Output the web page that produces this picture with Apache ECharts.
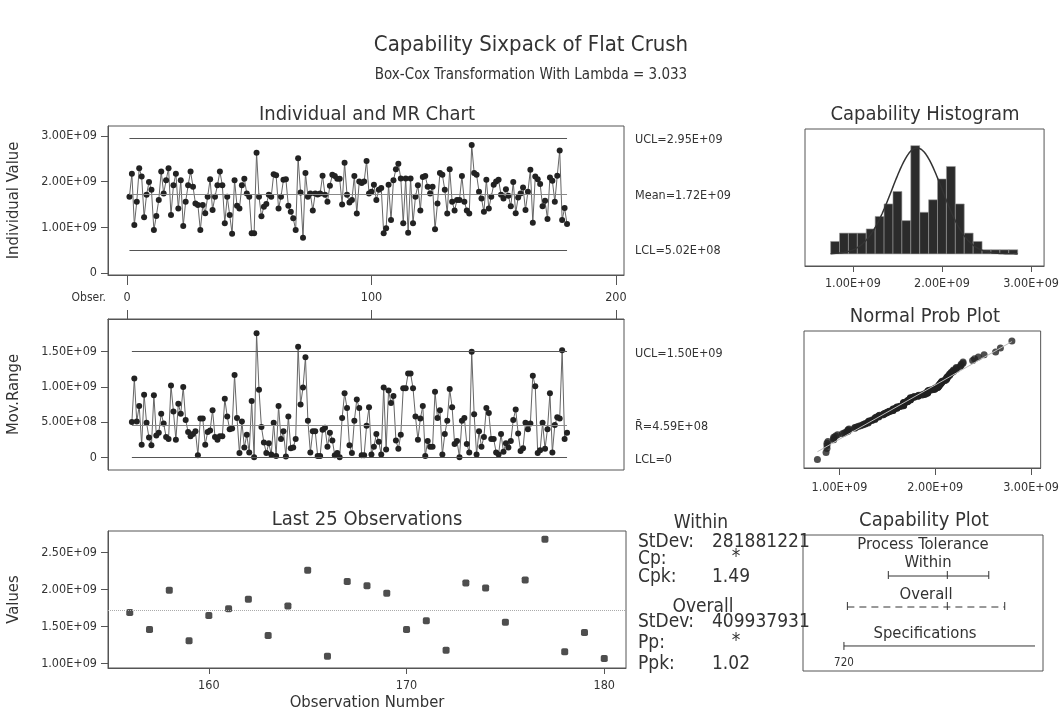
<!DOCTYPE html>
<html>
<head>
<meta charset="utf-8">
<title>Capability Sixpack of Flat Crush</title>
<script src="https://cdn.jsdelivr.net/npm/echarts@6.0.0/dist/echarts.min.js"></script>
<style>
  html, body { margin: 0; padding: 0; background: #fff; }
  #chart { width: 1062px; height: 712px; }
</style>
</head>
<body>
<div id="chart"></div>
<script>
// values are in units of 1E+09 (Box-Cox transformed flat crush)
const individualValues = [
  1.67, 2.17, 1.05, 1.56, 2.29, 2.11, 1.22, 1.71, 1.99, 1.82,
  0.94, 1.25, 1.60, 2.22, 1.74, 2.03, 2.29, 1.27, 1.92, 2.17,
  1.41, 2.03, 1.03, 1.56, 1.92, 2.22, 1.89, 1.52, 1.49, 0.94,
  1.49, 1.31, 1.67, 2.05, 1.38, 1.67, 1.92, 2.22, 1.92, 1.09,
  1.67, 1.27, 0.86, 2.03, 1.47, 1.41, 1.92, 2.06, 1.74, 1.67,
  0.87, 0.87, 2.63, 1.67, 1.24, 1.45, 1.51, 1.71, 1.67, 2.16,
  2.14, 1.41, 1.67, 2.04, 2.05, 1.47, 1.34, 1.20, 0.94, 2.51,
  1.76, 0.77, 2.19, 1.67, 1.74, 1.37, 1.74, 1.72, 1.74, 2.13,
  1.71, 1.56, 1.91, 2.15, 2.12, 2.06, 2.06, 1.50, 2.41, 1.71,
  1.54, 1.60, 2.12, 1.30, 2.00, 1.97, 2.00, 2.45, 1.74, 1.78,
  1.93, 1.60, 1.82, 1.86, 0.87, 0.98, 1.93, 1.16, 2.03, 2.27,
  2.39, 2.07, 1.09, 2.07, 0.88, 2.07, 1.09, 1.67, 1.92, 1.37,
  2.10, 2.12, 1.89, 1.74, 1.89, 0.96, 1.52, 2.19, 2.15, 1.82,
  1.30, 2.27, 1.56, 1.37, 1.60, 1.60, 2.12, 1.56, 1.37, 1.30,
  2.80, 2.19, 2.15, 1.78, 1.63, 1.34, 2.04, 1.41, 1.67, 1.93,
  2.00, 2.04, 1.71, 1.63, 1.83, 1.69, 1.46, 1.99, 1.31, 1.65,
  1.74, 1.87, 1.38, 1.78, 2.26, 1.10, 2.11, 2.05, 1.95, 1.46,
  1.58, 1.18, 2.09, 2.02, 1.56, 2.13, 2.68, 1.16, 1.42, 1.07
];

// moving ranges, observations 2..180
const movingRanges = [
  0.50, 1.12, 0.51, 0.73, 0.18, 0.89, 0.49, 0.28, 0.17, 0.88,
  0.31, 0.35, 0.62, 0.48, 0.29, 0.26, 1.02, 0.65, 0.25, 0.76,
  0.62, 1.00, 0.53, 0.36, 0.30, 0.33, 0.37, 0.03, 0.55, 0.55,
  0.18, 0.36, 0.38, 0.67, 0.29, 0.25, 0.30, 0.30, 0.83, 0.58,
  0.40, 0.41, 1.17, 0.56, 0.06, 0.51, 0.14, 0.32, 0.07, 0.80,
  0.00, 1.76, 0.96, 0.43, 0.21, 0.06, 0.20, 0.04, 0.49, 0.02,
  0.73, 0.26, 0.37, 0.01, 0.58, 0.13, 0.14, 0.26, 1.57, 0.75,
  0.99, 1.42, 0.52, 0.07, 0.37, 0.37, 0.02, 0.02, 0.39, 0.42,
  0.15, 0.35, 0.24, 0.03, 0.06, 0.00, 0.56, 0.91, 0.70, 0.17,
  0.06, 0.52, 0.82, 0.70, 0.03, 0.03, 0.45, 0.71, 0.04, 0.15,
  0.33, 0.22, 0.04, 0.99, 0.11, 0.95, 0.77, 0.87, 0.24, 0.12,
  0.32, 0.98, 0.98, 1.19, 1.19, 0.98, 0.58, 0.25, 0.55, 0.73,
  0.02, 0.23, 0.15, 0.15, 0.93, 0.56, 0.67, 0.04, 0.33, 0.52,
  0.97, 0.71, 0.19, 0.23, 0.00, 0.52, 0.56, 0.19, 0.07, 1.50,
  0.61, 0.04, 0.37, 0.15, 0.29, 0.70, 0.63, 0.26, 0.26, 0.07,
  0.04, 0.33, 0.08, 0.20, 0.14, 0.23, 0.53, 0.68, 0.34, 0.09,
  0.13, 0.49, 0.40, 0.48, 1.16, 1.01, 0.06, 0.10, 0.49, 0.12,
  0.40, 0.91, 0.07, 0.46, 0.57, 0.55, 1.52, 0.26, 0.35
];

// control limits
const indUCL = 2.95, indMean = 1.72, indLCL = 0.502;
const mrUCL = 1.50, mrBar = 0.459, mrLCL = 0;

// capability histogram
const histBinCenters = [0.8, 0.9, 1.0, 1.1, 1.2, 1.3, 1.4, 1.5, 1.6, 1.7, 1.8,
  1.9, 2.0, 2.1, 2.2, 2.3, 2.4, 2.5, 2.6, 2.7, 2.8];
const histCounts = [3, 5, 5, 5, 6, 9, 12, 15, 8, 26, 10, 13, 18, 21, 12, 5, 3, 1, 1, 1, 1];
const histBinWidth = 0.1;

// statistics
const withinStDev = 0.281881221, overallStDev = 0.409937931;
const statsWithin = [['StDev:', '281881221'], ['Cp:', '*'], ['Cpk:', '1.49']];
const statsOverall = [['StDev:', '409937931'], ['Pp:', '*'], ['Ppk:', '1.02']];

// capability plot, original units: [low, centre, high]
const withinTol = [887, 1109, 1265];
const overallTol = [733, 1109, 1325];
const lowerSpec = 720;

const tickInd = [0, 100, 200];
const tickIndY = [0, 1, 2, 3];
const tickMrY = [0, 0.5, 1.0, 1.5];
const tickLastX = [160, 170, 180];
const tickLastY = [1.0, 1.5, 2.0, 2.5];
const tickHistX = [1, 2, 3];

const FONT = "'DejaVu Sans Condensed', 'DejaVu Sans', sans-serif";
const INK = '#333';

function fmtE(v) {
  if (Math.abs(v) < 1e-9) return '0';
  const x = v * 1e9;
  let e = Math.floor(Math.log10(x) + 1e-9);
  let m = x / Math.pow(10, e);
  return m.toFixed(2) + 'E+' + String(e).padStart(2, '0');
}

// inverse normal cdf (Acklam)
function normInv(p) {
  const a = [-39.69683028665376, 220.9460984245205, -275.9285104469687, 138.3577518672690, -30.66479806614716, 2.506628277459239];
  const b = [-54.47609879822406, 161.5858368580409, -155.6989798598866, 66.80131188771972, -13.28068155288572];
  const c = [-0.007784894002430293, -0.3223964580411365, -2.400758277161838, -2.549732539343734, 4.374664141464968, 2.938163982698783];
  const d = [0.007784695709041462, 0.3224671290700398, 2.445134137142996, 3.754408661907416];
  const pl = 0.02425;
  let q, r;
  if (p < pl) {
    q = Math.sqrt(-2 * Math.log(p));
    return (((((c[0] * q + c[1]) * q + c[2]) * q + c[3]) * q + c[4]) * q + c[5]) / ((((d[0] * q + d[1]) * q + d[2]) * q + d[3]) * q + 1);
  }
  if (p > 1 - pl) {
    q = Math.sqrt(-2 * Math.log(1 - p));
    return -(((((c[0] * q + c[1]) * q + c[2]) * q + c[3]) * q + c[4]) * q + c[5]) / ((((d[0] * q + d[1]) * q + d[2]) * q + d[3]) * q + 1);
  }
  q = p - 0.5; r = q * q;
  return (((((a[0] * r + a[1]) * r + a[2]) * r + a[3]) * r + a[4]) * r + a[5]) * q / (((((b[0] * r + b[1]) * r + b[2]) * r + b[3]) * r + b[4]) * r + 1);
}

const n = individualValues.length;
const indData = individualValues.map((v, i) => [i + 1, v]);
const mrData = movingRanges.map((v, i) => [i + 2, v]);
const firstLast = n - 24;
const lastData = individualValues.slice(-25).map((v, i) => [firstLast + i, v]);
const histData = histBinCenters.map((c, i) => [c, histCounts[i]]);

const sorted = individualValues.slice().sort((a, b) => a - b);
const probData = sorted.map((v, i) => [v, normInv((i + 1 - 0.3) / (n + 0.4))]);
const probLine = [[sorted[0], (sorted[0] - indMean) / overallStDev], [sorted[n - 1], (sorted[n - 1] - indMean) / overallStDev]];

const curveData = [];
for (let x = 0.75; x <= 2.851; x += 0.01) {
  const z = (x - indMean) / withinStDev;
  curveData.push([x, n * histBinWidth / (withinStDev * Math.sqrt(2 * Math.PI)) * Math.exp(-0.5 * z * z)]);
}

const gridBox = { show: true, borderColor: '#555', borderWidth: 1, backgroundColor: 'transparent' };
const axisLbl = { color: INK, fontSize: 12.5, fontFamily: FONT };
const nameStyle = { color: INK, fontSize: 16.5, fontFamily: FONT };

function valueAxis(idx, opt) {
  return Object.assign({
    type: 'value', gridIndex: idx, scale: false,
    splitLine: { show: false },
    axisLine: { show: true, onZero: false, lineStyle: { color: '#555' } },
    axisTick: { show: true, length: 7, lineStyle: { color: '#555' } },
    axisLabel: Object.assign({}, axisLbl)
  }, opt);
}

const option = {
  backgroundColor: '#fff',
  animation: false,
  textStyle: { fontFamily: FONT },
  grid: [
    Object.assign({ left: 108, top: 126, width: 516, height: 149 }, gridBox),
    Object.assign({ left: 108, top: 319, width: 516, height: 151 }, gridBox),
    Object.assign({ left: 108, top: 531, width: 518, height: 139 }, gridBox),
    Object.assign({ left: 805, top: 129, width: 240, height: 137 }, gridBox),
    Object.assign({ left: 804, top: 331, width: 241, height: 137 }, gridBox),
    Object.assign({ left: 803, top: 535, width: 240, height: 136 }, gridBox)
  ],
  xAxis: [
    valueAxis(0, { min: -7.77, max: 203.3, position: 'bottom',
      axisTick: { show: true, length: 10, customValues: tickInd, lineStyle: { color: '#555' } },
      axisLabel: Object.assign({}, axisLbl, { customValues: tickInd, margin: 16 }) }),
    valueAxis(1, { min: -7.77, max: 203.3, position: 'top',
      axisTick: { show: true, length: 9, customValues: tickInd, lineStyle: { color: '#555' } },
      axisLabel: { show: false } }),
    valueAxis(2, { min: 154.9, max: 181.1, position: 'bottom',
      axisTick: { show: true, length: 6, customValues: tickLastX, lineStyle: { color: '#555' } },
      axisLabel: Object.assign({}, axisLbl, { customValues: tickLastX, margin: 11 }),
      name: 'Observation Number', nameLocation: 'middle', nameGap: 26,
      nameTextStyle: nameStyle }),
    valueAxis(3, { min: 0.4625, max: 3.146, position: 'bottom',
      axisTick: { show: true, length: 6, customValues: tickHistX, lineStyle: { color: '#555' } },
      axisLabel: Object.assign({}, axisLbl, { customValues: tickHistX, margin: 11, formatter: fmtE }) }),
    valueAxis(4, { min: 0.63, max: 3.10, position: 'bottom',
      axisTick: { show: true, length: 7, customValues: tickHistX, lineStyle: { color: '#555' } },
      axisLabel: Object.assign({}, axisLbl, { customValues: tickHistX, margin: 13, formatter: fmtE }) }),
    { type: 'value', gridIndex: 5, min: 566, max: 1469, show: false }
  ],
  yAxis: [
    valueAxis(0, { min: -0.044, max: 3.217,
      axisTick: { show: true, length: 7, customValues: tickIndY, lineStyle: { color: '#555' } },
      axisLabel: Object.assign({}, axisLbl, { customValues: tickIndY, margin: 11, formatter: fmtE }),
      name: 'Individual Value', nameLocation: 'middle', nameGap: 86, nameRotate: 90,
      nameTextStyle: nameStyle }),
    valueAxis(1, { min: -0.18, max: 1.964,
      axisTick: { show: true, length: 7, customValues: tickMrY, lineStyle: { color: '#555' } },
      axisLabel: Object.assign({}, axisLbl, { customValues: tickMrY, margin: 11, formatter: fmtE }),
      name: 'Mov.Range', nameLocation: 'middle', nameGap: 86, nameRotate: 90,
      nameTextStyle: nameStyle }),
    valueAxis(2, { min: 0.942, max: 2.79,
      axisTick: { show: true, length: 7, customValues: tickLastY, lineStyle: { color: '#555' } },
      axisLabel: Object.assign({}, axisLbl, { customValues: tickLastY, margin: 11, formatter: fmtE }),
      name: 'Values', nameLocation: 'middle', nameGap: 86, nameRotate: 90,
      nameTextStyle: nameStyle }),
    { type: 'value', gridIndex: 3, min: -2.9, max: 30, show: false },
    { type: 'value', gridIndex: 4, min: -3.05, max: 3.11, show: false },
    { type: 'value', gridIndex: 5, min: 0, max: 4.387, inverse: true, show: false }
  ],
  series: [
    {
      type: 'line', xAxisIndex: 0, yAxisIndex: 0, data: indData,
      symbol: 'circle', symbolSize: 6,
      itemStyle: { color: '#222' }, lineStyle: { color: '#666', width: 1 },
      markLine: {
        silent: true, symbol: 'none', label: { show: false },
        data: [
          [{ coord: [1, indUCL], lineStyle: { color: '#555', width: 1, type: 'solid' } }, { coord: [n, indUCL] }],
          [{ coord: [1, indMean], lineStyle: { color: '#888', width: 1, type: 'solid' } }, { coord: [n, indMean] }],
          [{ coord: [1, indLCL], lineStyle: { color: '#555', width: 1, type: 'solid' } }, { coord: [n, indLCL] }]
        ]
      }
    },
    {
      type: 'line', xAxisIndex: 1, yAxisIndex: 1, data: mrData,
      symbol: 'circle', symbolSize: 6,
      itemStyle: { color: '#222' }, lineStyle: { color: '#666', width: 1 },
      markLine: {
        silent: true, symbol: 'none', label: { show: false },
        data: [
          [{ coord: [2, mrUCL], lineStyle: { color: '#555', width: 1, type: 'solid' } }, { coord: [n, mrUCL] }],
          [{ coord: [2, mrBar], lineStyle: { color: '#888', width: 1, type: 'solid' } }, { coord: [n, mrBar] }],
          [{ coord: [2, mrLCL], lineStyle: { color: '#555', width: 1, type: 'solid' } }, { coord: [n, mrLCL] }]
        ]
      }
    },
    {
      type: 'scatter', xAxisIndex: 2, yAxisIndex: 2, data: lastData,
      symbol: 'roundRect', symbolSize: 7, itemStyle: { color: '#222' },
      markLine: {
        silent: true, symbol: 'none', label: { show: false },
        lineStyle: { color: '#aaa', width: 1, type: 'dotted' },
        data: [{ yAxis: indMean }]
      }
    },
    {
      type: 'custom', xAxisIndex: 3, yAxisIndex: 3, data: histData,
      renderItem: function (params, api) {
        const c = api.value(0), h = api.value(1);
        const p0 = api.coord([c - histBinWidth / 2, h]);
        const p1 = api.coord([c + histBinWidth / 2, 0]);
        return {
          type: 'rect',
          shape: { x: p0[0], y: p0[1], width: p1[0] - p0[0], height: p1[1] - p0[1] },
          style: { fill: '#2b2b2b', stroke: '#999', lineWidth: 0.6 }
        };
      }
    },
    {
      type: 'line', xAxisIndex: 3, yAxisIndex: 3, data: curveData,
      symbol: 'none', smooth: false, lineStyle: { color: '#333', width: 1.5 }
    },
    {
      type: 'line', xAxisIndex: 4, yAxisIndex: 4, data: probLine,
      symbol: 'none', lineStyle: { color: '#bbb', width: 1 }
    },
    {
      type: 'scatter', xAxisIndex: 4, yAxisIndex: 4, data: probData,
      symbol: 'circle', symbolSize: 7, itemStyle: { color: '#222' }
    },
    {
      type: 'custom', xAxisIndex: 5, yAxisIndex: 5,
      data: [
        [withinTol[0], withinTol[1], withinTol[2], 1.323, 0],
        [overallTol[0], overallTol[1], overallTol[2], 2.323, 1]
      ],
      renderItem: function (params, api) {
        const row = api.value(3);
        const lo = api.coord([api.value(0), row]);
        const mid = api.coord([api.value(1), row]);
        const hi = api.coord([api.value(2), row]);
        const dashed = api.value(4) === 1;
        const st = { stroke: '#333', lineWidth: 1 };
        const tick = (p) => ({ type: 'line', shape: { x1: p[0], y1: p[1] - 5, x2: p[0], y2: p[1] + 3 }, style: st });
        return {
          type: 'group',
          children: [
            { type: 'line', shape: { x1: lo[0], y1: lo[1], x2: hi[0], y2: hi[1] },
              style: { stroke: '#333', lineWidth: 1, lineDash: dashed ? [7, 5] : null } },
            tick(lo), tick(mid), tick(hi)
          ]
        };
      }
    },
    {
      type: 'custom', xAxisIndex: 5, yAxisIndex: 5,
      data: [[lowerSpec, 3.58]],
      renderItem: function (params, api) {
        const lo = api.coord([api.value(0), api.value(1)]);
        const right = params.coordSys.x + params.coordSys.width - 8;
        const st = { stroke: '#333', lineWidth: 1 };
        return {
          type: 'group',
          children: [
            { type: 'line', shape: { x1: lo[0], y1: lo[1], x2: right, y2: lo[1] }, style: st },
            { type: 'line', shape: { x1: lo[0], y1: lo[1] - 4, x2: lo[0], y2: lo[1] + 4 }, style: st }
          ]
        };
      }
    }
  ]
};

const chart = echarts.init(document.getElementById('chart'));
chart.setOption(option);

function txt(text, x, y, size, align, color) {
  return {
    type: 'text', x: x, y: y, silent: true,
    style: {
      text: text, fill: color || INK, font: size + 'px ' + FONT,
      textAlign: align || 'left', textVerticalAlign: 'middle',
      align: align || 'left', verticalAlign: 'middle'
    }
  };
}

const gfx = [
  txt('Capability Sixpack of Flat Crush', 531, 45, 22, 'center'),
  txt('Box-Cox Transformation With Lambda = 3.033', 531, 75, 15, 'center'),
  txt('Individual and MR Chart', 367, 115, 20, 'center'),
  txt('Capability Histogram', 925, 115, 20, 'center'),
  txt('Normal Prob Plot', 925, 317, 20, 'center'),
  txt('Last 25 Observations', 367, 520, 20, 'center'),
  txt('Capability Plot', 924, 521, 20, 'center'),
  txt('Obser.', 106, 298, 12, 'right'),
  txt('Process Tolerance', 923, 545, 16.5, 'center'),
  txt('Within', 928, 563, 16.5, 'center'),
  txt('Overall', 926, 595, 16.5, 'center'),
  txt('Specifications', 925, 634, 16.5, 'center'),
  txt('720', chart.convertToPixel({ xAxisIndex: 5 }, lowerSpec), 663, 11.5, 'center')
];

// control limit labels
const yPix = (axis, v) => chart.convertToPixel({ yAxisIndex: axis }, v);
gfx.push(txt('UCL=' + fmtE(indUCL), 635, yPix(0, indUCL) + 2, 12.5));
gfx.push(txt('Mean=' + fmtE(indMean), 635, yPix(0, indMean) + 1, 12.5));
gfx.push(txt('LCL=' + fmtE(indLCL), 635, yPix(0, indLCL) + 1, 12.5));
gfx.push(txt('UCL=' + fmtE(mrUCL), 635, yPix(1, mrUCL) + 2, 12.5));
gfx.push(txt('R\u0304=' + fmtE(mrBar), 635, yPix(1, mrBar) + 2, 12.5));
gfx.push(txt('LCL=0', 635, yPix(1, mrLCL) + 2, 12.5));

// statistics block
gfx.push(txt('Within', 701, 523, 19, 'center'));
statsWithin.forEach((r, i) => {
  const y = [542, 559, 577][i];
  gfx.push(txt(r[0], 638, y, 19));
  gfx.push(r[1] === '*' ? txt('*', 736, y - 2, 19, 'center') : txt(r[1], 712, y, 19));
});
gfx.push(txt('Overall', 703, 607, 19, 'center'));
statsOverall.forEach((r, i) => {
  const y = [622, 643, 664][i];
  gfx.push(txt(r[0], 638, y, 19));
  gfx.push(r[1] === '*' ? txt('*', 736, y - 2, 19, 'center') : txt(r[1], 712, y, 19));
});

chart.setOption({ graphic: gfx });
</script>
</body>
</html>
